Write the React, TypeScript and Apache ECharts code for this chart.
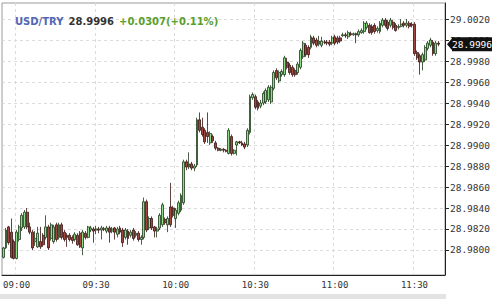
import React, { useEffect, useRef } from "react";
import * as echarts from "echarts";

// minute categories 08:55 .. 11:41
const times: string[] = [];
for (let m = 8 * 60 + 55; m <= 11 * 60 + 41; m++) {
  const h = Math.floor(m / 60);
  const mm = m % 60;
  times.push(`${String(h).padStart(2, "0")}:${String(mm).padStart(2, "0")}`);
}

const yTicks = [28.98, 28.982, 28.984, 28.986, 28.988, 28.99, 28.992, 28.994, 28.996, 28.998, 29.0, 29.002];
const xLabelTimes = ["09:00", "09:30", "10:00", "10:30", "11:00", "11:30"];

const symbol = "USD/TRY";
const changeText = "+0.0307(+0.11%)";

// [open, high, low, close]
const ohlc: number[][] = [
  [28.9793, 28.9803, 28.9792, 28.9802],
  [28.9802, 28.9821, 28.9801, 28.9819],
  [28.9822, 28.9823, 28.9805, 28.9807],
  [28.9817, 28.983, 28.9792, 28.9793],
  [28.9808, 28.981, 28.9791, 28.9792],
  [28.9792, 28.9819, 28.9791, 28.9817],
  [28.981, 28.9824, 28.9808, 28.9822],
  [28.9821, 28.9835, 28.9818, 28.9833],
  [28.9822, 28.9838, 28.982, 28.9836],
  [28.9836, 28.984, 28.982, 28.9822],
  [28.9822, 28.9826, 28.9815, 28.9817],
  [28.9817, 28.9819, 28.98, 28.9802],
  [28.9808, 28.9818, 28.9804, 28.9811],
  [28.9803, 28.9822, 28.9802, 28.9816],
  [28.9808, 28.9822, 28.9801, 28.9803],
  [28.9814, 28.9816, 28.9803, 28.9805],
  [28.9812, 28.9833, 28.981, 28.9822],
  [28.9822, 28.9824, 28.98, 28.9802],
  [28.9811, 28.9826, 28.9809, 28.9824],
  [28.9808, 28.9824, 28.9806, 28.9822],
  [28.9824, 28.9826, 28.9808, 28.981],
  [28.9812, 28.9826, 28.981, 28.9824],
  [28.9824, 28.9826, 28.981, 28.9812],
  [28.9817, 28.9819, 28.9808, 28.981],
  [28.9814, 28.9816, 28.9803, 28.9812],
  [28.9814, 28.9816, 28.9808, 28.981],
  [28.9812, 28.9814, 28.9806, 28.9809],
  [28.981, 28.9817, 28.9808, 28.9815],
  [28.9814, 28.9816, 28.9804, 28.9805],
  [28.9816, 28.9818, 28.9802, 28.9803],
  [28.9802, 28.9819, 28.9795, 28.9817],
  [28.9816, 28.9818, 28.981, 28.9812],
  [28.9812, 28.9823, 28.9811, 28.9822],
  [28.9819, 28.9823, 28.9817, 28.9821],
  [28.982, 28.9822, 28.9807, 28.9818],
  [28.9819, 28.9823, 28.9815, 28.982],
  [28.982, 28.9822, 28.9816, 28.9819],
  [28.9819, 28.9823, 28.981, 28.9821],
  [28.982, 28.9822, 28.9818, 28.982],
  [28.9818, 28.9823, 28.9816, 28.9821],
  [28.9821, 28.9823, 28.9807, 28.9817],
  [28.9818, 28.9822, 28.9816, 28.982],
  [28.9821, 28.9822, 28.981, 28.9817],
  [28.9815, 28.9822, 28.9812, 28.982],
  [28.9821, 28.9823, 28.9815, 28.9817],
  [28.9819, 28.9821, 28.9803, 28.9807],
  [28.9812, 28.9821, 28.981, 28.9819],
  [28.9818, 28.982, 28.9805, 28.9811],
  [28.9814, 28.9819, 28.9812, 28.9817],
  [28.9819, 28.9821, 28.9809, 28.9811],
  [28.9814, 28.9818, 28.9812, 28.9816],
  [28.9816, 28.9818, 28.9808, 28.981],
  [28.981, 28.9814, 28.9805, 28.9812],
  [28.9812, 28.985, 28.981, 28.9846],
  [28.9846, 28.9848, 28.9817, 28.9819],
  [28.9821, 28.9832, 28.9819, 28.983],
  [28.983, 28.9832, 28.9819, 28.9821],
  [28.9822, 28.9823, 28.9812, 28.9818],
  [28.9818, 28.9822, 28.9812, 28.982],
  [28.9821, 28.9835, 28.9819, 28.9833],
  [28.9824, 28.9845, 28.9822, 28.9843],
  [28.9829, 28.9831, 28.9824, 28.9826],
  [28.9824, 28.9832, 28.9817, 28.983],
  [28.9841, 28.9864, 28.9822, 28.9824],
  [28.984, 28.9842, 28.9831, 28.9833],
  [28.983, 28.984, 28.9821, 28.9838],
  [28.9835, 28.9847, 28.9833, 28.9845],
  [28.9838, 28.9854, 28.9836, 28.9852],
  [28.9845, 28.9886, 28.9843, 28.9884],
  [28.9884, 28.9886, 28.9876, 28.9879],
  [28.9879, 28.9893, 28.9877, 28.9882],
  [28.9882, 28.9884, 28.9876, 28.9878],
  [28.9878, 28.9882, 28.9875, 28.988],
  [28.9881, 28.9926, 28.9879, 28.9924],
  [28.9924, 28.9931, 28.9912, 28.9914],
  [28.9917, 28.9926, 28.9908, 28.991],
  [28.9914, 28.9916, 28.9901, 28.9903],
  [28.9912, 28.9931, 28.9902, 28.9908],
  [28.9902, 28.9913, 28.99, 28.9911],
  [28.9908, 28.991, 28.9902, 28.9904],
  [28.9902, 28.9904, 28.9895, 28.9897],
  [28.9897, 28.9898, 28.9894, 28.9895],
  [28.9895, 28.9897, 28.9894, 28.9896],
  [28.9896, 28.9897, 28.9893, 28.9895],
  [28.9895, 28.9896, 28.9893, 28.9894],
  [28.9892, 28.9916, 28.9891, 28.9914],
  [28.9908, 28.991, 28.989, 28.9892],
  [28.9892, 28.9896, 28.9891, 28.9895],
  [28.99, 28.9904, 28.989, 28.9903],
  [28.9903, 28.9904, 28.9901, 28.9902],
  [28.9902, 28.9904, 28.9899, 28.99],
  [28.9901, 28.9903, 28.9896, 28.9898],
  [28.99, 28.9916, 28.9898, 28.9914],
  [28.9912, 28.9948, 28.991, 28.9946],
  [28.9945, 28.995, 28.9943, 28.9948],
  [28.9946, 28.9948, 28.9934, 28.9936],
  [28.9941, 28.9943, 28.9933, 28.9935],
  [28.9937, 28.9943, 28.9935, 28.994],
  [28.994, 28.9951, 28.9938, 28.9949],
  [28.9941, 28.9954, 28.9939, 28.9952],
  [28.9943, 28.9957, 28.9941, 28.9955],
  [28.9941, 28.9957, 28.9939, 28.9955],
  [28.9954, 28.9971, 28.9952, 28.9969],
  [28.9971, 28.9973, 28.9962, 28.9964],
  [28.9961, 28.9971, 28.9959, 28.9969],
  [28.9967, 28.9972, 28.9965, 28.997],
  [28.9967, 28.9985, 28.9965, 28.9983],
  [28.9979, 28.9983, 28.9972, 28.9974],
  [28.9976, 28.9978, 28.9967, 28.9969],
  [28.9974, 28.9976, 28.9965, 28.9967],
  [28.9971, 28.9973, 28.9965, 28.9967],
  [28.9969, 28.9979, 28.9967, 28.9977],
  [28.9974, 28.9992, 28.9972, 28.999],
  [28.9984, 28.9999, 28.9982, 28.9997],
  [28.9995, 28.9997, 28.9984, 28.9986],
  [28.9993, 28.9995, 28.9983, 28.9986],
  [28.9993, 29.0005, 28.9991, 29.0003],
  [29.0002, 29.0004, 28.9995, 28.9997],
  [29.0, 29.0002, 28.9993, 28.9995],
  [28.9996, 29.0004, 28.9994, 28.9999],
  [28.9995, 29.0003, 28.9993, 28.9999],
  [28.9998, 29.0, 28.9996, 28.9998],
  [28.9998, 29.0, 28.9995, 28.9997],
  [28.9998, 29.0, 28.9994, 28.9996],
  [28.9997, 29.0004, 28.9995, 29.0002],
  [29.0003, 29.0005, 28.9995, 28.9997],
  [29.0002, 29.0004, 28.9996, 28.9998],
  [29.0002, 29.0004, 28.9997, 28.9999],
  [29.0004, 29.0007, 29.0003, 29.0005],
  [29.0005, 29.0007, 29.0002, 29.0004],
  [29.0003, 29.0009, 29.0001, 29.0007],
  [29.0006, 29.0008, 29.0004, 29.0005],
  [29.0005, 29.0007, 29.0004, 29.0006],
  [29.0006, 29.0007, 28.9997, 29.0005],
  [29.0005, 29.001, 29.0003, 29.0008],
  [29.0007, 29.0011, 29.0006, 29.0009],
  [29.0008, 29.0018, 29.0006, 29.0016],
  [29.0012, 29.0018, 29.001, 29.0016],
  [29.0014, 29.0016, 29.0006, 29.0007],
  [29.0013, 29.0015, 29.0005, 29.0007],
  [29.0014, 29.0016, 29.0006, 29.0008],
  [29.0009, 29.0013, 29.0007, 29.0011],
  [29.0008, 29.0018, 29.0006, 29.0016],
  [29.0014, 29.0021, 29.0012, 29.0019],
  [29.0019, 29.0021, 29.0012, 29.0014],
  [29.0017, 29.0019, 29.0009, 29.0011],
  [29.0014, 29.0021, 29.0012, 29.0019],
  [29.0017, 29.0019, 29.001, 29.0012],
  [29.0014, 29.0016, 29.0008, 29.0009],
  [29.0012, 29.0015, 29.001, 29.0013],
  [29.0013, 29.002, 29.0012, 29.0015],
  [29.0016, 29.0018, 29.0012, 29.0014],
  [29.0014, 29.002, 29.0012, 29.0016],
  [29.0016, 29.0018, 29.0011, 29.0013],
  [29.0015, 29.0017, 29.0012, 29.0014],
  [29.0015, 29.0017, 28.9985, 28.9987],
  [28.9988, 28.999, 28.9981, 28.9983],
  [28.9985, 28.9987, 28.9967, 28.9979],
  [28.9979, 28.9988, 28.9971, 28.9986],
  [28.9981, 28.9995, 28.9979, 28.9993],
  [28.9992, 28.9999, 28.999, 28.9997],
  [28.9995, 29.0002, 28.9993, 29.0],
  [28.9998, 29.0, 28.9985, 28.9987],
  [28.9987, 28.9999, 28.9985, 28.9997],
  [28.9997, 28.9999, 28.9994, 28.9996],
];

const candleData = ohlc.map(([o, h, l, c]) => [o, c, l, h]);
const lastClose = ohlc[ohlc.length - 1][3];

const MONO = "'DejaVu Sans Mono', monospace";
const isLabelTime = (_i: number, v: string) => xLabelTimes.includes(v);

export default function App() {
  const ref = useRef<HTMLDivElement>(null);
  useEffect(() => {
    if (!ref.current) return;
    const chart = echarts.init(ref.current, undefined, { renderer: "svg" });
    chart.setOption({
      animation: false,
      backgroundColor: "#ffffff",
      title: {
        text: `{a|${symbol}} {b|${lastClose.toFixed(4)}} {c|${changeText}}`,
        left: 10,
        top: 7,
        textStyle: {
          rich: {
            a: { color: "#5267b3", fontWeight: "bold", fontSize: 10, fontFamily: "'DejaVu Sans', sans-serif" },
            b: { color: "#333333", fontWeight: "bold", fontSize: 10, fontFamily: "'DejaVu Sans', sans-serif" },
            c: { color: "#5a9e2c", fontWeight: "bold", fontSize: 10, fontFamily: "'DejaVu Sans', sans-serif" },
          },
        },
      },
      grid: {
        left: 2,
        right: 47,
        top: 3,
        bottom: 24,
        show: true,
        borderColor: "#9a9a9a",
        borderWidth: 1,
      },
      xAxis: {
        type: "category",
        data: times,
        boundaryGap: true,
        axisLine: { lineStyle: { color: "#222", width: 1 } },
        axisTick: { interval: isLabelTime, alignWithLabel: true, length: 3, lineStyle: { color: "#222" } },
        axisLabel: {
          interval: isLabelTime,
          fontFamily: MONO,
          fontSize: 9,
          color: "#333",
          margin: 5,
        },
        splitLine: {
          show: true,
          interval: isLabelTime,
          lineStyle: { color: "#dcdcdc", type: [3, 3] },
        },
      },
      yAxis: {
        type: "value",
        position: "right",
        min: 28.977619,
        max: 29.003524,
        scale: true,
        axisLine: { show: true, lineStyle: { color: "#222", width: 1 } },
        axisTick: { show: true, customValues: yTicks, length: 4, lineStyle: { color: "#222" } },
        axisLabel: {
          customValues: yTicks,
          formatter: (v: number) => v.toFixed(4),
          fontFamily: MONO,
          fontSize: 9.5,
          color: "#333",
          margin: 5,
        },
        splitLine: { show: true, lineStyle: { color: "#dcdcdc", type: [3, 3] } },
      },
      series: [
        {
          type: "candlestick",
          data: candleData,
          barWidth: 2.4,
          itemStyle: {
            color: "#8fdc8a",
            color0: "#a2453f",
            borderColor: "#1d3a1a",
            borderColor0: "#3a1412",
            borderWidth: 0.8,
          },
        },
      ],
    });

    const yPix = chart.convertToPixel({ yAxisIndex: 0 }, lastClose) as number;
    chart.setOption({
      graphic: [
        {
          type: "rect",
          shape: { x: 0, y: 294, width: 446, height: 5 },
          style: { fill: "#e3e3e3" },
          silent: true,
        },
        {
          type: "polygon",
          shape: { points: [[447, yPix], [453, yPix - 7], [453, yPix + 7]] },
          style: { fill: "#111" },
          z: 100,
        },
        {
          type: "rect",
          shape: { x: 452, y: yPix - 7, width: 40, height: 14 },
          style: { fill: "#111" },
          z: 100,
        },
        {
          type: "text",
          x: 452,
          y: yPix,
          z: 101,
          style: {
            text: lastClose.toFixed(4),
            fill: "#ffffff",
            font: `9.5px ${MONO}`,
            verticalAlign: "middle",
            align: "left",
          },
        },
      ],
    });

    return () => chart.dispose();
  }, []);
  return (
    <div
      ref={ref}
      style={{ position: "fixed", left: 0, top: 0, width: 493, height: 299 }}
    />
  );
}
